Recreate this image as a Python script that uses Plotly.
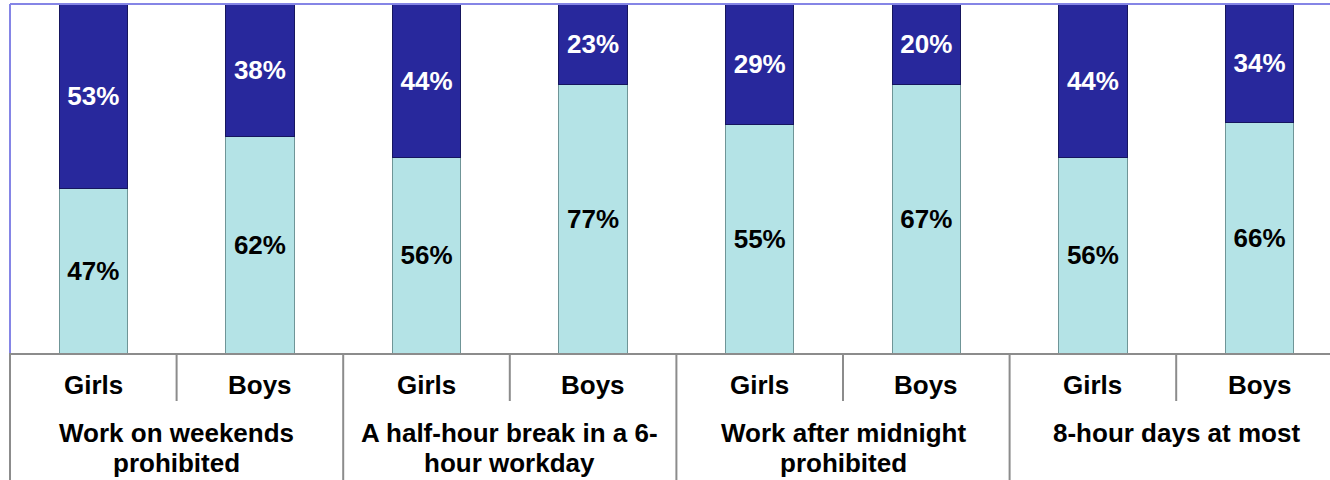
import plotly.graph_objects as go

# ---- data ----
groups = ["Work on weekends<br>prohibited",
          "A half-hour break in a 6-<br>hour workday",
          "Work after midnight<br>prohibited",
          "8-hour days at most"]
genders = ["Girls", "Boys"]
tick_labels = genders * len(groups)
light_vals = [47, 62, 56, 77, 55, 67, 56, 66]
dark_vals = [53, 38, 44, 23, 29, 20, 44, 34]

xs = list(range(len(tick_labels)))

W, H = 1330, 480
M_L, M_R, M_T, M_B = 10, 0, 4, 127
PLOT_H = H - M_T - M_B
SLOT_PX = 166.6
X_MAX = -0.5 + (W - M_L - M_R) / SLOT_PX


def py(pix):
    """pixel row -> paper y"""
    return (H - M_B - pix) / PLOT_H


FONT = "Arial, Liberation Sans, sans-serif"
GRID = "#8c8c8c"
BORDER = "#8585e6"

fig = go.Figure()
fig.add_trace(go.Bar(
    x=xs, y=light_vals, name="Series 1",
    marker=dict(color="#b4e3e6", line=dict(color="#6f9597", width=1)),
    text=[f"<b>{v}%</b>" for v in light_vals],
    textposition="inside", insidetextanchor="middle", textangle=0,
    constraintext="none",
    textfont=dict(family=FONT, size=26, color="black"),
))
fig.add_trace(go.Bar(
    x=xs, y=dark_vals, name="Series 2",
    marker=dict(color="#28289c", line=dict(color="#16165e", width=1)),
    text=[f"<b>{v}%</b>" for v in dark_vals],
    textposition="inside", insidetextanchor="middle", textangle=0,
    constraintext="none",
    textfont=dict(family=FONT, size=26, color="white"),
))

annotations = []
for i, lab in enumerate(tick_labels):
    annotations.append(dict(
        x=i, y=py(385), xref="x", yref="paper", text=f"<b>{lab}</b>",
        showarrow=False, yanchor="middle", xanchor="center",
        font=dict(family=FONT, size=26, color="black")))
for g, lab in enumerate(groups):
    for k, line in enumerate(lab.split("<br>")):
        annotations.append(dict(
            x=2 * g + 0.5, y=py(433 + 30 * k), xref="x", yref="paper",
            text=f"<b>{line}</b>",
            showarrow=False, yanchor="middle", xanchor="center", align="center",
            font=dict(family=FONT, size=26, color="black")))

shapes = []
# plot-area border (top and left)
shapes.append(dict(type="line", xref="paper", yref="paper", x0=0, x1=1, y0=1, y1=1,
                   line=dict(color=BORDER, width=2)))
shapes.append(dict(type="line", xref="paper", yref="paper", x0=0, x1=0, y0=0, y1=1,
                   line=dict(color=BORDER, width=2)))
# table lines below the axis
shapes.append(dict(type="line", xref="paper", yref="paper", x0=0, x1=0, y0=0, y1=py(482),
                   line=dict(color=GRID, width=2)))
for g in range(1, len(groups)):
    xb = 2 * g - 0.5
    shapes.append(dict(type="line", xref="x", yref="paper", x0=xb, x1=xb, y0=0, y1=py(482),
                       line=dict(color=GRID, width=2)))
for g in range(len(groups)):
    xb = 2 * g + 0.5
    shapes.append(dict(type="line", xref="x", yref="paper", x0=xb, x1=xb, y0=0, y1=py(401),
                       line=dict(color=GRID, width=2)))

fig.update_layout(
    width=W, height=H,
    margin=dict(l=M_L, r=M_R, t=M_T, b=M_B),
    barmode="stack", barnorm="percent", bargap=0.59,
    plot_bgcolor="white", paper_bgcolor="white",
    showlegend=False,
    annotations=annotations, shapes=shapes,
    xaxis=dict(range=[-0.5, X_MAX], showticklabels=False, ticks="",
               showgrid=False, zeroline=False,
               showline=True, linecolor=GRID, linewidth=2),
    yaxis=dict(range=[0, 100], showticklabels=False, ticks="",
               showgrid=False, zeroline=False, showline=False),
)

fig.write_html("out.html", config={"displayModeBar": False},
               post_script="document.body.style.margin='0px';document.body.style.overflow='hidden';")
